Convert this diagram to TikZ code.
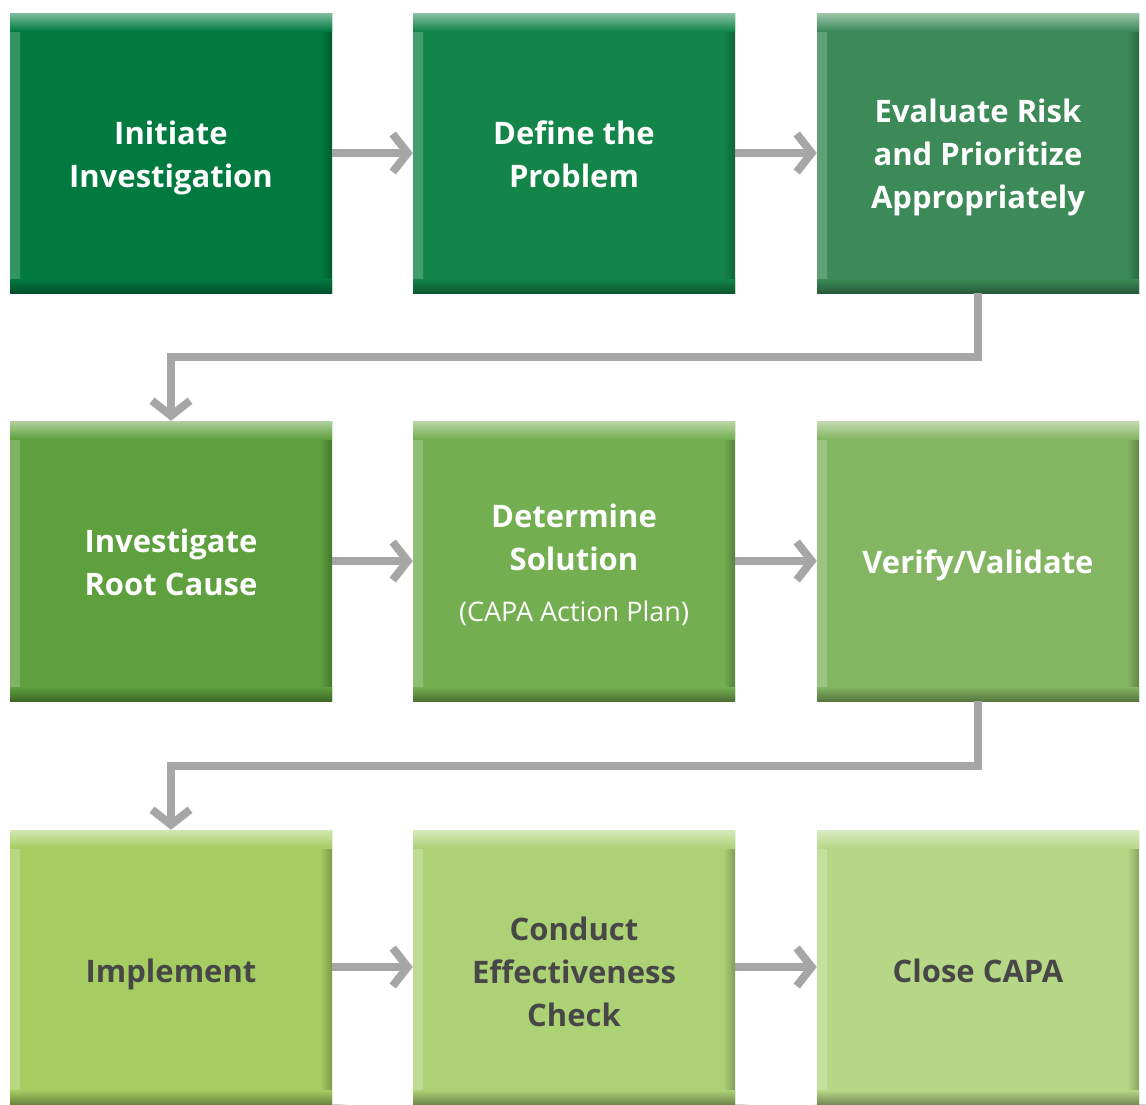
\documentclass[tikz,border=0pt]{standalone}
\usepackage{fontspec}
\setmainfont{Open Sans}
\usetikzlibrary{arrows.meta,backgrounds}
\definecolor{c1}{HTML}{007A3F}
\definecolor{c2}{HTML}{138549}
\definecolor{c3}{HTML}{3B8A57}
\definecolor{c4}{HTML}{5EA03D}
\definecolor{c5}{HTML}{73AE51}
\definecolor{c6}{HTML}{84B562}
\definecolor{c7}{HTML}{A5CD62}
\definecolor{c8}{HTML}{ADD276}
\definecolor{c9}{HTML}{B6D886}
\definecolor{darktext}{HTML}{474747}
\definecolor{conngray}{HTML}{A6A6A6}
\newcommand\steptext[2][-4pt]{\raisebox{#1}[\height][\depth]{\begin{tabular}{@{}c@{}}#2\end{tabular}}}
\tikzset{
  stepbox/.style={rectangle, minimum width=322pt, minimum height=280pt, inner sep=0pt,
    fill=#1, text=white, font=\fontsize{31}{43}\selectfont\bfseries,
    path picture={
      \shade[left color=#1!80!white, right color=#1] (path picture bounding box.south west) rectangle ([xshift=10pt]path picture bounding box.north west);
      \shade[left color=#1, right color=#1!75!black] ([xshift=-12pt]path picture bounding box.south east) rectangle (path picture bounding box.north east);
      \shade[top color=#1!50!white, bottom color=#1] (path picture bounding box.north west) rectangle ([yshift=-18pt]path picture bounding box.north east);
      \shade[top color=#1, bottom color=#1!65!black] ([yshift=14pt]path picture bounding box.south west) rectangle (path picture bounding box.south east);
    }},
  darkbox/.style={text=darktext},
  conn/.style={draw=conngray, line width=8pt, -{Straight Barb[length=15pt, width=38pt]}},
  softshadow/.style={fill=black, opacity=0.018},
}
\begin{document}
\begin{tikzpicture}[x=1pt, y=-1pt]
\clip (0,0) rectangle (1146,1104);
\fill[white] (0,0) rectangle (1146,1104);
% row 1
\node[stepbox=c1] (n1) at (171,153) {\steptext{Initiate\\Investigation}};
\node[stepbox=c2] (n2) at (574,153) {\steptext{Define the\\Problem}};
\node[stepbox=c3] (n3) at (978,153) {\steptext{Evaluate Risk\\and Prioritize\\Appropriately}};
% row 2
\node[stepbox=c4] (n4) at (171,561) {\steptext{Investigate\\Root Cause}};
\node[stepbox=c5] (n5) at (574,561) {\steptext[-5pt]{Determine\\Solution\\[8pt]{\fontsize{27}{30}\selectfont\mdseries (CAPA Action Plan)}}};
\node[stepbox=c6] (n6) at (978,561) {\steptext{Verify/Validate}};
% row 3
\node[stepbox=c7, darkbox, minimum height=274pt] (n7) at (171,967) {\steptext[-7pt]{Implement}};
\node[stepbox=c8, darkbox, minimum height=274pt] (n8) at (574,967) {\steptext[-8pt]{Conduct\\Effectiveness\\Check}};
\node[stepbox=c9, darkbox, minimum height=274pt] (n9) at (978,967) {\steptext[-7pt]{Close CAPA}};
% soft shadows
\begin{scope}[on background layer]
\foreach \n in {n1,n2,n3,n4,n5,n6,n7,n8,n9}{
  \foreach \k in {1,...,10}{
    \fill[softshadow] ([xshift=6pt-\k pt, yshift=-4pt+\k pt]\n.north west) rectangle ([xshift=6pt+\k pt, yshift=-6pt-\k pt]\n.south east);
  }
}
\end{scope}
% connectors
\draw[conn] (n1.east) -- (n2.west);
\draw[conn] (n2.east) -- (n3.west);
\draw[conn] (n3.south) -- ++(0,64) -| (n4.north);
\draw[conn] (n4.east) -- (n5.west);
\draw[conn] (n5.east) -- (n6.west);
\draw[conn] (n6.south) -- ++(0,65) -| (n7.north);
\draw[conn] (n7.east) -- (n8.west);
\draw[conn] (n8.east) -- (n9.west);
\end{tikzpicture}
\end{document}
